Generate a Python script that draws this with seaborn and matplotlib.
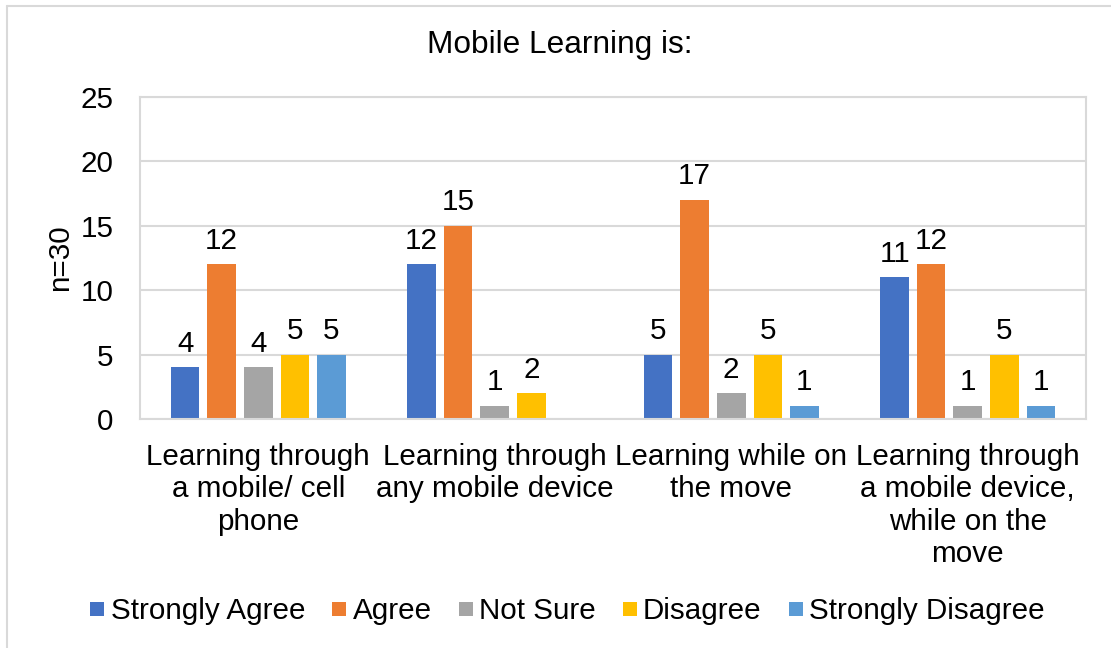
import matplotlib
matplotlib.use("Agg")
import matplotlib.pyplot as plt
import seaborn as sns
import pandas as pd
from matplotlib.lines import Line2D

categories = [
    "Learning through\na mobile/ cell\nphone",
    "Learning through\nany mobile device",
    "Learning while on\nthe move",
    "Learning through\na mobile device,\nwhile on the\nmove",
]
responses = ["Strongly Agree", "Agree", "Not Sure", "Disagree", "Strongly Disagree"]
strongly_agree = [4, 12, 5, 11]
agree = [12, 15, 17, 12]
not_sure = [4, 1, 2, 1]
disagree = [5, 2, 5, 5]
strongly_disagree = [5, 0, 1, 1]
colors = ["#4472C4", "#ED7D31", "#A5A5A5", "#FFC000", "#5B9BD5"]

series = [strongly_agree, agree, not_sure, disagree, strongly_disagree]
rows = []
for resp, vals in zip(responses, series):
    for cat, v in zip(categories, vals):
        rows.append({"category": cat, "response": resp, "count": v})
df = pd.DataFrame(rows)

sns.set_theme(style="white")
plt.rcParams["font.family"] = ["Liberation Sans", "DejaVu Sans"]
plt.rcParams["text.color"] = "#000000"
plt.rcParams["axes.labelcolor"] = "#000000"

FS = 21.3

fig = plt.figure(figsize=(11.11, 6.48), dpi=100)
ax = fig.add_axes([140 / 1111, 1 - 419 / 648, 946 / 1111, 322 / 648])

sns.barplot(
    data=df, x="category", y="count", hue="response",
    order=categories, hue_order=responses, palette=colors, saturation=1,
    width=0.7725, gap=0.22, linewidth=0, errorbar=None,
    legend=False, ax=ax,
)

for container, vals in zip(ax.containers, series):
    labels = [str(v) if v > 0 else "" for v in vals]
    ax.bar_label(container, labels=labels, padding=7, fontsize=FS, color="#000000")

ax.set_ylim(0, 25)
ax.set_yticks([0, 5, 10, 15, 20, 25])
ax.set_xlim(-0.5, 3.5)
ax.yaxis.grid(True, color="#D9D9D9", linewidth=1.5)
ax.set_axisbelow(True)
for s in ax.spines.values():
    s.set_color("#D9D9D9")
    s.set_linewidth(1.5)
ax.tick_params(axis="both", length=0, labelsize=FS, colors="#000000")
ax.tick_params(axis="y", pad=19)
ax.tick_params(axis="x", pad=17)
for lbl in ax.get_xticklabels():
    lbl.set_linespacing(1.21)
ax.set_xlabel("")
ax.set_ylabel("n=30", fontsize=FS, labelpad=5, color="#000000")

fig.text(0.504, 1 - 45 / 648, "Mobile Learning is:", ha="center", va="center",
         fontsize=22.8, color="#000000")

handles = [Line2D([], [], marker="s", linestyle="none", markersize=10,
                  markerfacecolor=c, markeredgewidth=0) for c in colors]
fig.legend(handles, responses, loc="center", bbox_to_anchor=(0.508, 1 - 611 / 648),
           ncol=5, frameon=False, fontsize=FS, handletextpad=0.0,
           columnspacing=0.7, handlelength=0.9)

# outer frame of the chart (left and top edges)
fig.add_artist(Line2D([7 / 1111, 7 / 1111], [0, 1 - 6 / 648], transform=fig.transFigure,
                      color="#D9D9D9", linewidth=1.5))
fig.add_artist(Line2D([7 / 1111, 1], [1 - 6 / 648, 1 - 6 / 648], transform=fig.transFigure,
                      color="#D9D9D9", linewidth=1.5))

fig.savefig("out.png", dpi=100, facecolor="white")
